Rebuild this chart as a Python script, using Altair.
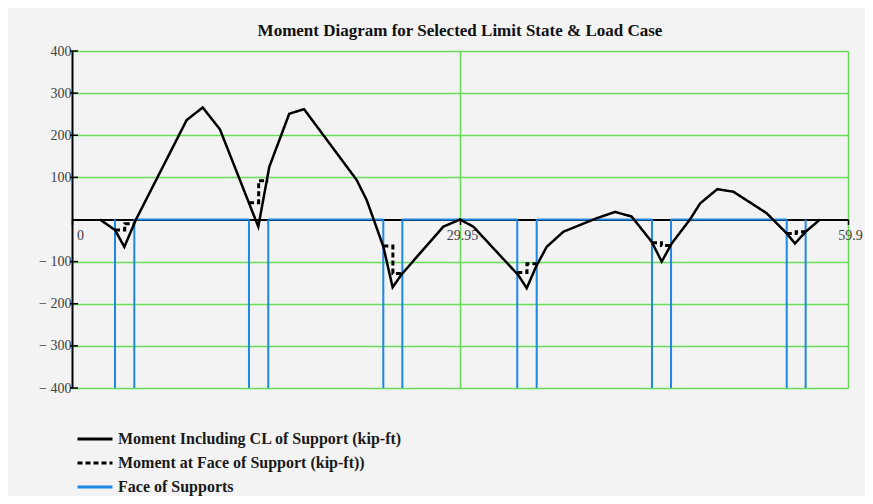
import altair as alt
import pandas as pd

title_text = "Moment Diagram for Selected Limit State & Load Case"
series_names = [
    "Moment Including CL of Support (kip-ft)",
    "Moment at Face of Support (kip-ft))",
    "Face of Supports",
]

# Moment including centreline of support (kip-ft)
moment_x = [2.16, 3.32, 4.04, 4.94, 8.85, 10.09, 11.42, 14.38, 15.23, 16.77, 17.91,
            21.97, 22.75, 24.03, 24.75, 25.45, 28.66, 29.95, 30.98, 34.45, 35.10,
            35.82, 36.64, 37.93, 40.50, 41.92, 43.20, 44.75, 45.52, 46.29, 47.70,
            48.48, 49.81, 51.05, 53.62, 55.17, 55.81, 56.63, 57.74]
moment_y = [0, -25, -65, 0, 236, 266, 214, -17, 125, 251, 262,
            94, 46, -64, -161, -130, -17, 0, -17, -132, -163,
            -112, -65, -29, 3, 18, 7, -53, -100, -57, 0,
            38, 72, 66, 15, -33, -57, -29, 0]

# Faces of supports (ft)
face_left = [3.32, 13.66, 24.03, 34.37, 44.77, 55.17]
face_right = [4.81, 15.15, 25.50, 35.87, 46.24, 56.63]
support_cl = [4.07, 14.41, 24.77, 35.12, 45.50, 55.90]

# Moment at faces of supports (kip-ft)
face_moment_left = [-25, 40, -63, -126, -55, -33]
face_moment_right = [-10, 92, -128, -105, -62, -29]

y_ticks = [-400, -300, -200, -100, 100, 200, 300, 400]
x_ticks = [0, 29.95, 59.9]
x_domain = [0, 59.9]
y_domain = [-400, 400]

GREEN = "#66dd55"
BLUE = "#1e88e5"

# ---- tables -----------------------------------------------------------
solid_df = pd.DataFrame({"x": moment_x, "y": moment_y, "series": series_names[0]})
solid_df["seq"] = range(len(solid_df))

dash_rows = []
for i in range(len(face_left)):
    pts = [(face_left[i], face_moment_left[i]), (support_cl[i], face_moment_left[i]),
           (support_cl[i], face_moment_right[i]), (face_right[i], face_moment_right[i])]
    for k, (xx, yy) in enumerate(pts):
        dash_rows.append({"x": xx, "y": yy, "seq": k, "support": i, "series": series_names[1]})
dash_df = pd.DataFrame(dash_rows)

rule_rows = []
for f in face_left + face_right:
    rule_rows.append({"x": f, "x2": f, "y": y_domain[0], "y2": 0, "series": series_names[2]})
for i in range(len(face_right) - 1):
    rule_rows.append({"x": face_right[i], "x2": face_left[i + 1], "y": 0, "y2": 0,
                      "series": series_names[2]})
rule_df = pd.DataFrame(rule_rows)

tick_df = pd.DataFrame({"y": y_ticks})

# ---- scales / axes ------------------------------------------------------
x_scale = alt.Scale(domain=x_domain, nice=False, zero=False)
y_scale = alt.Scale(domain=y_domain, nice=False)

x_axis = alt.Axis(
    values=x_ticks, orient="bottom", offset=-168.5, title=None,
    domainColor="black", domainWidth=2,
    tickColor="black", tickSize=5, tickWidth=1.5,
    labelFont="Liberation Serif", labelFontSize=14, labelColor="#404040",
    labelPadding=4, labelAlign="center", labelFlush=False, labelOverlap=False,
    labelOffset={"condition": {"test": "datum.value === 0", "value": 8}, "value": 2},
    labelExpr="format(datum.value, '.2~f')",
    grid=True, gridWidth=1.5,
    gridColor={"condition": {"test": "datum.value === 0", "value": "transparent"}, "value": GREEN},
)
y_axis = alt.Axis(
    values=y_ticks, title=None,
    domainColor="black", domainWidth=2, ticks=False,
    labelFont="Liberation Serif", labelFontSize=14, labelColor="#404040",
    labelPadding=1,
    labelExpr="datum.value < 0 ? '\u2212 ' + abs(datum.value) : '' + datum.value",
    grid=True, gridColor=GREEN, gridWidth=1.5,
)

legend = alt.Legend(orient="none", legendX=15, legendY=380)
color_enc = alt.Color("series:N", title=None, legend=legend,
                      scale=alt.Scale(domain=series_names, range=["#000000", "#000000", BLUE]))
dash_enc = alt.StrokeDash("series:N", title=None, legend=legend,
                          scale=alt.Scale(domain=series_names, range=[[1, 0], [5, 3], [1, 0]]))

rules = alt.Chart(rule_df).mark_rule(strokeWidth=2).encode(
    x=alt.X("x:Q", scale=x_scale, axis=x_axis),
    x2="x2:Q",
    y=alt.Y("y:Q", scale=y_scale, axis=y_axis),
    y2="y2:Q",
    color=color_enc,
    strokeDash=dash_enc,
)

solid = alt.Chart(solid_df).mark_line(strokeWidth=2.5).encode(
    x=alt.X("x:Q", scale=x_scale, axis=x_axis),
    y=alt.Y("y:Q", scale=y_scale, axis=y_axis),
    order="seq:Q",
    color=color_enc,
    strokeDash=dash_enc,
)

dashed = alt.Chart(dash_df).mark_line(strokeWidth=3).encode(
    x=alt.X("x:Q", scale=x_scale, axis=x_axis),
    y=alt.Y("y:Q", scale=y_scale, axis=y_axis),
    order="seq:Q",
    detail="support:N",
    color=color_enc,
    strokeDash=dash_enc,
)

yticks = alt.Chart(tick_df).mark_rule(color="black", strokeWidth=1.5).encode(
    y=alt.Y("y:Q", scale=y_scale, axis=y_axis),
    x=alt.value(-2),
    x2=alt.value(6),
)

chart = alt.layer(rules, solid, dashed, yticks).properties(
    width=776, height=337,
    autosize=alt.AutoSizeParams(type="none"),
    padding={"left": 64, "top": 43, "right": 17, "bottom": 108},
    background="#f3f3f3",
    title=alt.TitleParams(title_text, font="Liberation Serif", fontSize=17,
                          fontWeight="bold", color="#111111", offset=4, anchor="middle"),
).configure_view(strokeWidth=0).configure_legend(
    symbolType="M-3,0H3", symbolSize=136, symbolStrokeWidth=3,
    labelFont="Liberation Serif", labelFontSize=16, labelFontWeight="bold",
    labelColor="#1a1a1a", labelLimit=500, labelOffset=15, rowPadding=8, padding=0,
)

chart.save("out.html", embed_options={"renderer": "svg", "actions": False})
